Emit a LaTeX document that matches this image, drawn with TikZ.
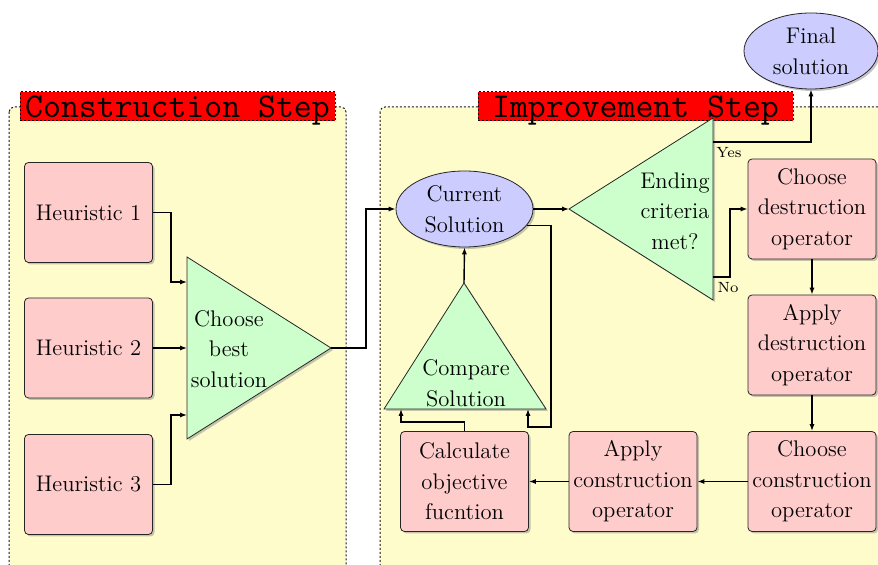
\documentclass[tikz,border=0pt]{standalone}
\usetikzlibrary{shadows,arrows.meta,shapes.geometric}
\begin{document}
\begin{tikzpicture}[x=0.5pt,y=-0.5pt,
  shd/.style={drop shadow={shadow xshift=1pt,shadow yshift=-1pt,opacity=0.45}},
  body/.style={font=\fontsize{11.3}{15.3}\selectfont, align=center},
  box/.style={body, draw=black!85, fill=red!20, rounded corners=2pt, minimum width=64pt, minimum height=50pt, inner sep=0pt, shd},
  ell/.style={body, ellipse, draw=black!85, fill=blue!20, inner sep=0pt, shd},
  tri/.style={draw=black!85, fill=green!20, shd},
  panel/.style={draw=black!90, fill=yellow!20, rounded corners=2.5pt, dash pattern=on 1pt off 1pt, line width=0.5pt},
  titlebox/.style={draw=black, fill=red, dash pattern=on 1pt off 1pt, line width=0.5pt, font=\fontsize{17.4}{20}\selectfont\ttfamily, minimum width=157.5pt, minimum height=14.5pt, text depth=0pt, inner sep=0pt},
  conn/.style={-{Latex[length=3.5pt,width=2.6pt]}, line width=0.7pt},
  lab/.style={font=\fontsize{7.4}{9}\selectfont, inner sep=0pt}
]
\useasboundingbox (0,0) rectangle (878,565);
\clip (0,0) rectangle (878,565);
\fill[white] (0,0) rectangle (878,565);

% panels
\path[panel] (9,107) rectangle (346,620);
\path[panel] (380,107) rectangle (920,620);
\node[titlebox] (ct) at (177.5,106.5) {Construction Step};
\node[titlebox] (it) at (635.5,106.5) {Improvement Step};

% construction step
\node[box] (h1) at (88.5,212.5) {Heuristic 1};
\node[box] (h2) at (88.5,348) {Heuristic 2};
\node[box] (h3) at (88.5,484.5) {Heuristic 3};

\filldraw[tri] (187,257) -- (331,348) -- (187,439) -- cycle;
\coordinate (bin1) at (187,282);
\coordinate (bin2) at (187,348);
\coordinate (bin3) at (187,415);
\coordinate (bout) at (331,348);
\node[body] (bestt) at (229,349) {Choose\\best\\solution};

% improvement step
\node[ell, minimum width=68.5pt, minimum height=38pt] (cur) at (464.5,209) {Current\\Solution};
\node[ell, minimum width=67pt, minimum height=38pt] (fin) at (811,51) {Final\\solution};

\filldraw[tri] (713,118) -- (569,209) -- (713,300) -- cycle;
\coordinate (ein) at (569,209);
\coordinate (eyes) at (713,142);
\coordinate (eno) at (713,277);
\node[body] (endt) at (675,211) {Ending\\criteria\\met?};

\node[box] (cd) at (812,209) {Choose\\destruction\\operator};
\node[box] (ad) at (812,345) {Apply\\destruction\\operator};
\node[box] (cc) at (812,481.5) {Choose\\construction\\operator};
\node[box] (ac) at (633,481.5) {Apply\\construction\\operator};
\node[box] (calc) at (464.5,481.5) {Calculate\\objective\\fucntion};

\filldraw[tri] (464,283) -- (546,409) -- (384,409) -- cycle;
\coordinate (capex) at (464,283);
\coordinate (cl) at (401,409);
\coordinate (cr) at (528,409);
\coordinate (loop1) at (551,427);
\node[body] (comt) at (466,383) {Compare\\Solution};

% connectors
\draw[conn] (h1.east) -- ++(18,0) |- (bin1);
\draw[conn] (h2.east) -- (bin2);
\draw[conn] (h3.east) -- ++(18,0) |- (bin3);
\draw[conn] (bout) -- ++(35,0) |- (cur.west);
\draw[conn] (cur.east) -- (ein);
\draw[conn] (cur.-15) -| (loop1) -| (cr);
\draw[conn] (calc.north) -- ++(0,-9) -| (cl);
\draw[conn] (capex) -- (cur.south);
\draw[conn] (eyes) -| (fin.south);
\draw[conn] (eno) -- ++(17,0) |- (cd.west);
\draw[conn] (cd.south) -- (ad.north);
\draw[conn] (ad.south) -- (cc.north);
\draw[conn] (cc.west) -- (ac.east);
\draw[conn] (ac.west) -- (calc.east);
\node[lab] (yes) at (729,153) {Yes};
\node[lab] (no) at (728,288) {No};
\end{tikzpicture}
\end{document}
